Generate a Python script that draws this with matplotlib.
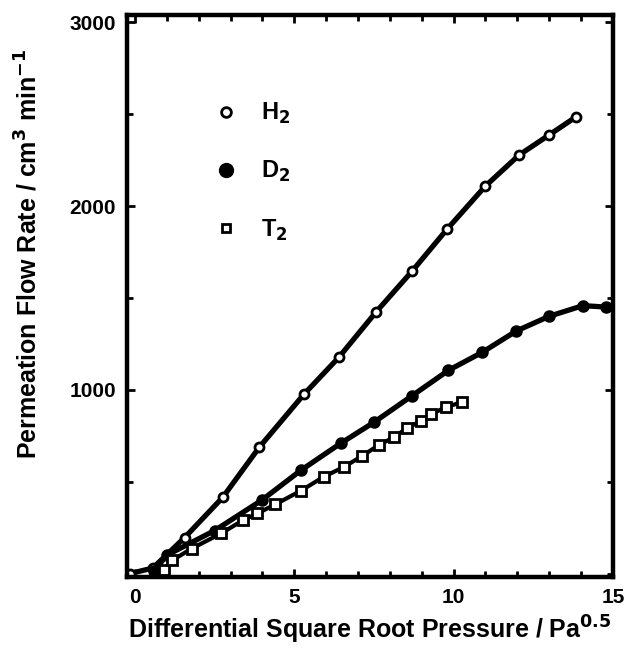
import matplotlib.pyplot as plt
from matplotlib.lines import Line2D
from matplotlib.ticker import MultipleLocator

plt.rcParams['font.family'] = ['Liberation Sans', 'DejaVu Sans']
plt.rcParams['font.weight'] = 'bold'

# data
h2_x = [-0.15, 0.56, 1.56, 2.75, 3.9, 5.3, 6.4, 7.56, 8.7, 9.8, 11.0, 12.06, 13.0, 13.84]
h2_y = [0, 30, 196, 414, 687, 975, 1177, 1422, 1646, 1875, 2109, 2278, 2387, 2485]

d2_x = [0.6, 1.0, 2.5, 3.97, 5.2, 6.45, 7.5, 8.7, 9.84, 10.9, 11.97, 13.0, 14.06, 14.8]
d2_y = [15, 100, 234, 398, 561, 708, 823, 968, 1106, 1204, 1320, 1400, 1458, 1450]

t2_x = [0.9, 1.16, 1.78, 2.7, 3.38, 3.84, 4.4, 5.2, 5.94, 6.56, 7.13, 7.66, 8.12, 8.53, 8.97, 9.3, 9.75, 10.25]
t2_y = [20, 71, 136, 218, 289, 327, 376, 450, 528, 580, 640, 700, 741, 790, 830, 867, 905, 932]

fig = plt.figure(figsize=(6.26, 6.5), dpi=100)
ax = fig.add_axes([0.203, 0.112, 0.776, 0.865])

lw = 3.8
ax.plot(h2_x, h2_y, '-', color='black', lw=lw, marker='o', ms=6.5,
        mfc='white', mec='black', mew=2)
ax.plot(d2_x, d2_y, '-', color='black', lw=lw, marker='o', ms=7,
        mfc='black', mec='black', mew=2)
ax.plot(t2_x, t2_y, '-', color='black', lw=3.0, marker='s', ms=6.5,
        mfc='white', mec='black', mew=2)

ax.set_xlim(-0.25, 14.95)
ax.set_ylim(-20, 3040)

ax.xaxis.set_major_locator(MultipleLocator(5))
ax.xaxis.set_minor_locator(MultipleLocator(1))
ax.yaxis.set_major_locator(MultipleLocator(1000))
ax.yaxis.set_minor_locator(MultipleLocator(500))
ax.tick_params(which='both', direction='in', top=True, right=True, width=2)
ax.tick_params(which='major', length=6, labelsize=15, pad=8)
ax.tick_params(which='minor', length=4)
ax.set_yticks([1000, 2000, 3000])
ax.set_xticks([0, 5, 10, 15])
for s in ax.spines.values():
    s.set_linewidth(3.2)

ax.set_xlabel('Differential Square Root Pressure / Pa$^{0.5}$', fontsize=18,
              fontweight='bold', labelpad=5)
ax.set_ylabel('Permeation Flow Rate / cm$^3$ min$^{-1}$', fontsize=18,
              fontweight='bold')
ax.yaxis.set_label_coords(-0.175, 0.575)

handles = [
    Line2D([], [], ls='none', marker='o', ms=7, mfc='white', mec='black', mew=2),
    Line2D([], [], ls='none', marker='o', ms=9, mfc='black', mec='black', mew=2),
    Line2D([], [], ls='none', marker='s', ms=6, mfc='white', mec='black', mew=2),
]
ax.legend(handles, ['H$_2$', 'D$_2$', 'T$_2$'], loc='upper left',
          bbox_to_anchor=(0.135, 0.885), frameon=False, fontsize=17,
          labelspacing=1.4, handletextpad=1.0, handlelength=1.0)

fig.savefig('out.png', dpi=100)
